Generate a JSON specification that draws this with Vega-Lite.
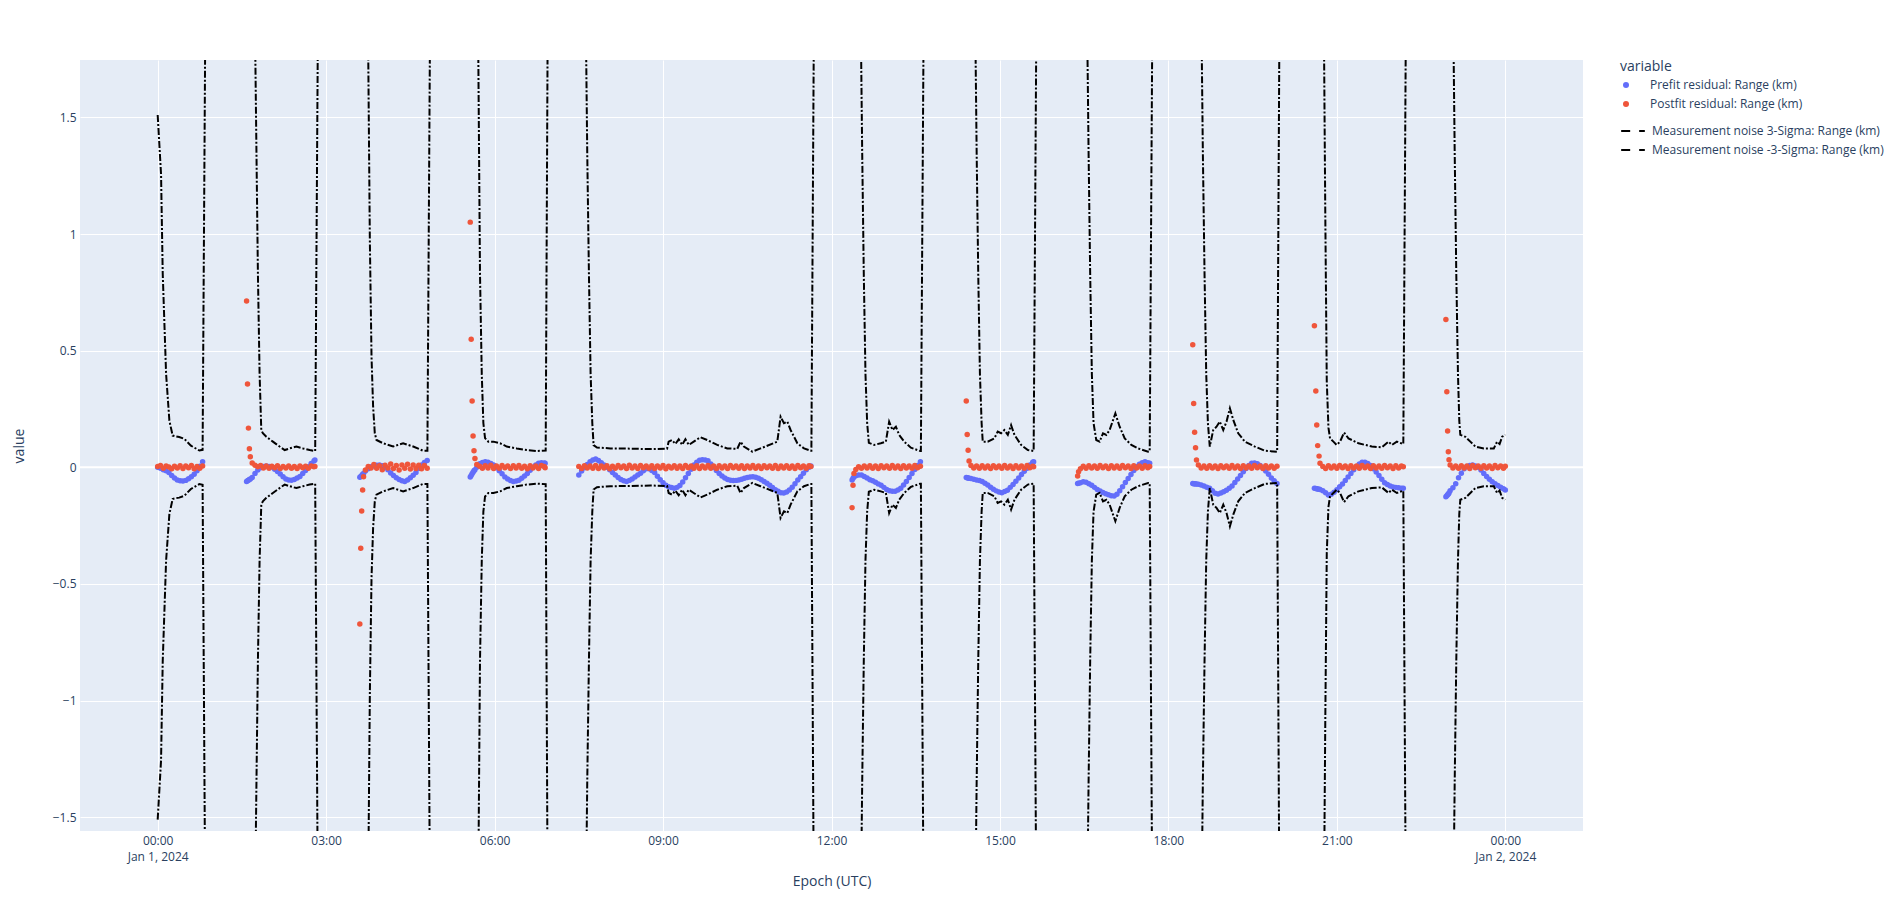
{
"$schema": "https://vega.github.io/schema/vega-lite/v6.json",
"width": 1503, "height": 771,
"autosize": {"type": "none"},
"padding": {"left": 80, "top": 60, "right": 321, "bottom": 80},
"background": "white",
"config": {
  "view": {"fill": "#E5ECF6", "stroke": null},
  "font": "Open Sans",
  "axis": {"domain": false, "ticks": false, "gridColor": "white", "gridWidth": 1, "labelColor": "#2a3f5f", "labelFontSize": 12, "titleColor": "#2a3f5f", "titleFontSize": 14, "titleFontWeight": "normal", "labelFont": "Open Sans", "titleFont": "Open Sans"},
  "legend": {"titleFont": "Open Sans", "labelFont": "Open Sans", "labelColor": "#2a3f5f", "titleColor": "#2a3f5f", "labelFontSize": 12, "labelLimit": 400}
},
"datasets": {
"res": [
{"t":"2024-01-01T00:00","pre":0,"post":0.003},{"t":"2024-01-01T00:03","pre":-0.004,"post":0.008},{"t":"2024-01-01T00:06","pre":-0.01,"post":-0.004},{"t":"2024-01-01T00:09","pre":-0.015,"post":0.006},{"t":"2024-01-01T00:12","pre":-0.022,"post":0.001},{"t":"2024-01-01T00:15","pre":-0.035,"post":-0.006},{"t":"2024-01-01T00:18","pre":-0.046,"post":0.005},{"t":"2024-01-01T00:21","pre":-0.054,"post":-0.003},{"t":"2024-01-01T00:24","pre":-0.058,"post":0.007},{"t":"2024-01-01T00:27","pre":-0.059,"post":-0.005},{"t":"2024-01-01T00:30","pre":-0.056,"post":0.006},{"t":"2024-01-01T00:33","pre":-0.049,"post":-0.002},{"t":"2024-01-01T00:36","pre":-0.04,"post":0.008},{"t":"2024-01-01T00:39","pre":-0.03,"post":-0.006},{"t":"2024-01-01T00:42","pre":-0.015,"post":0.004},{"t":"2024-01-01T00:45","pre":0.005,"post":-0.004},{"t":"2024-01-01T00:48","pre":0.024,"post":0.006},
{"t":"2024-01-01T01:35","pre":-0.061,"post":0.713},{"t":"2024-01-01T01:36","pre":-0.058,"post":0.357},{"t":"2024-01-01T01:37","pre":-0.055,"post":0.168},{"t":"2024-01-01T01:38","pre":-0.052,"post":0.08},{"t":"2024-01-01T01:39","pre":-0.05,"post":0.045},{"t":"2024-01-01T01:41","pre":-0.044,"post":0.018},{"t":"2024-01-01T01:44","pre":-0.026,"post":0.009},{"t":"2024-01-01T01:47","pre":-0.012,"post":0.002},{"t":"2024-01-01T01:50","pre":-0.002,"post":0.008},{"t":"2024-01-01T01:53","pre":0.003,"post":-0.003},{"t":"2024-01-01T01:56","pre":0.006,"post":0.006},{"t":"2024-01-01T01:59","pre":0.004,"post":-0.004},{"t":"2024-01-01T02:02","pre":0.001,"post":0.005},{"t":"2024-01-01T02:05","pre":-0.008,"post":-0.002},{"t":"2024-01-01T02:08","pre":-0.018,"post":0.007},{"t":"2024-01-01T02:11","pre":-0.029,"post":-0.005},{"t":"2024-01-01T02:14","pre":-0.04,"post":0.004},{"t":"2024-01-01T02:17","pre":-0.05,"post":-0.003},{"t":"2024-01-01T02:20","pre":-0.054,"post":0.006},{"t":"2024-01-01T02:23","pre":-0.055,"post":-0.004},{"t":"2024-01-01T02:26","pre":-0.052,"post":0.003},{"t":"2024-01-01T02:29","pre":-0.046,"post":-0.005},{"t":"2024-01-01T02:32","pre":-0.039,"post":0.006},{"t":"2024-01-01T02:35","pre":-0.027,"post":-0.002},{"t":"2024-01-01T02:38","pre":-0.014,"post":0.005},{"t":"2024-01-01T02:41","pre":0.002,"post":-0.004},{"t":"2024-01-01T02:44","pre":0.016,"post":0.006},{"t":"2024-01-01T02:47","pre":0.027,"post":0.002},{"t":"2024-01-01T02:48","pre":0.031,"post":0.004},
{"t":"2024-01-01T03:36","pre":-0.043,"post":-0.672},{"t":"2024-01-01T03:37","pre":-0.039,"post":-0.347},{"t":"2024-01-01T03:38","pre":-0.035,"post":-0.187},{"t":"2024-01-01T03:39","pre":-0.03,"post":-0.097},{"t":"2024-01-01T03:40","pre":-0.027,"post":-0.04},{"t":"2024-01-01T03:42","pre":-0.016,"post":-0.012},{"t":"2024-01-01T03:45","pre":-0.006,"post":0.004},{"t":"2024-01-01T03:48","pre":0.002,"post":-0.003},{"t":"2024-01-01T03:51","pre":0.007,"post":0.012},{"t":"2024-01-01T03:54","pre":0.009,"post":-0.004},{"t":"2024-01-01T03:57","pre":0.01,"post":0.007},{"t":"2024-01-01T04:00","pre":0.007,"post":-0.01},{"t":"2024-01-01T04:03","pre":0,"post":0.009},{"t":"2024-01-01T04:06","pre":-0.01,"post":-0.003},{"t":"2024-01-01T04:09","pre":-0.024,"post":0.014},{"t":"2024-01-01T04:12","pre":-0.035,"post":-0.005},{"t":"2024-01-01T04:15","pre":-0.045,"post":0.008},{"t":"2024-01-01T04:18","pre":-0.052,"post":-0.012},{"t":"2024-01-01T04:21","pre":-0.058,"post":0.01},{"t":"2024-01-01T04:24","pre":-0.061,"post":-0.004},{"t":"2024-01-01T04:27","pre":-0.054,"post":0.013},{"t":"2024-01-01T04:30","pre":-0.045,"post":-0.007},{"t":"2024-01-01T04:33","pre":-0.034,"post":0.01},{"t":"2024-01-01T04:36","pre":-0.022,"post":-0.005},{"t":"2024-01-01T04:39","pre":-0.005,"post":0.009},{"t":"2024-01-01T04:42","pre":0.01,"post":-0.006},{"t":"2024-01-01T04:45","pre":0.021,"post":0.008},{"t":"2024-01-01T04:48","pre":0.029,"post":-0.004},
{"t":"2024-01-01T05:34","pre":-0.042,"post":1.051},{"t":"2024-01-01T05:35","pre":-0.035,"post":0.549},{"t":"2024-01-01T05:36","pre":-0.028,"post":0.284},{"t":"2024-01-01T05:37","pre":-0.021,"post":0.134},{"t":"2024-01-01T05:38","pre":-0.015,"post":0.071},{"t":"2024-01-01T05:39","pre":-0.01,"post":0.038},{"t":"2024-01-01T05:41","pre":0,"post":0.012},{"t":"2024-01-01T05:44","pre":0.015,"post":0.005},{"t":"2024-01-01T05:47","pre":0.021,"post":-0.004},{"t":"2024-01-01T05:50","pre":0.024,"post":0.007},{"t":"2024-01-01T05:53","pre":0.022,"post":-0.003},{"t":"2024-01-01T05:56","pre":0.016,"post":0.009},{"t":"2024-01-01T05:59","pre":0.01,"post":-0.005},{"t":"2024-01-01T06:02","pre":-0.002,"post":0.006},{"t":"2024-01-01T06:05","pre":-0.015,"post":-0.004},{"t":"2024-01-01T06:08","pre":-0.028,"post":0.008},{"t":"2024-01-01T06:11","pre":-0.041,"post":-0.002},{"t":"2024-01-01T06:14","pre":-0.05,"post":0.006},{"t":"2024-01-01T06:17","pre":-0.057,"post":-0.005},{"t":"2024-01-01T06:20","pre":-0.061,"post":0.007},{"t":"2024-01-01T06:23","pre":-0.059,"post":-0.003},{"t":"2024-01-01T06:26","pre":-0.055,"post":0.008},{"t":"2024-01-01T06:29","pre":-0.047,"post":-0.004},{"t":"2024-01-01T06:32","pre":-0.037,"post":0.005},{"t":"2024-01-01T06:35","pre":-0.027,"post":-0.006},{"t":"2024-01-01T06:38","pre":-0.013,"post":0.007},{"t":"2024-01-01T06:41","pre":0,"post":-0.003},{"t":"2024-01-01T06:44","pre":0.01,"post":0.006},{"t":"2024-01-01T06:47","pre":0.017,"post":-0.005},{"t":"2024-01-01T06:50","pre":0.02,"post":0.008},{"t":"2024-01-01T06:53","pre":0.018,"post":0.003},{"t":"2024-01-01T06:54","pre":0.017,"post":-0.002},
{"t":"2024-01-01T07:30","pre":-0.033,"post":0.004},{"t":"2024-01-01T07:33","pre":-0.016,"post":-0.005},{"t":"2024-01-01T07:36","pre":-0.002,"post":0.007},{"t":"2024-01-01T07:39","pre":0.012,"post":-0.003},{"t":"2024-01-01T07:42","pre":0.024,"post":0.006},{"t":"2024-01-01T07:45","pre":0.031,"post":-0.004},{"t":"2024-01-01T07:48","pre":0.036,"post":0.008},{"t":"2024-01-01T07:51","pre":0.029,"post":-0.005},{"t":"2024-01-01T07:54","pre":0.02,"post":0.006},{"t":"2024-01-01T07:57","pre":0.01,"post":-0.003},{"t":"2024-01-01T08:00","pre":0,"post":0.007},{"t":"2024-01-01T08:03","pre":-0.01,"post":-0.006},{"t":"2024-01-01T08:06","pre":-0.022,"post":0.005},{"t":"2024-01-01T08:09","pre":-0.033,"post":-0.004},{"t":"2024-01-01T08:12","pre":-0.044,"post":0.008},{"t":"2024-01-01T08:15","pre":-0.052,"post":-0.002},{"t":"2024-01-01T08:18","pre":-0.058,"post":0.006},{"t":"2024-01-01T08:21","pre":-0.061,"post":-0.005},{"t":"2024-01-01T08:24","pre":-0.056,"post":0.009},{"t":"2024-01-01T08:27","pre":-0.05,"post":-0.003},{"t":"2024-01-01T08:30","pre":-0.042,"post":0.006},{"t":"2024-01-01T08:33","pre":-0.033,"post":-0.005},{"t":"2024-01-01T08:36","pre":-0.025,"post":0.008},{"t":"2024-01-01T08:39","pre":-0.015,"post":-0.002},{"t":"2024-01-01T08:42","pre":-0.006,"post":0.006},{"t":"2024-01-01T08:45","pre":-0.006,"post":-0.004},{"t":"2024-01-01T08:48","pre":-0.014,"post":0.007},{"t":"2024-01-01T08:51","pre":-0.022,"post":-0.005},{"t":"2024-01-01T08:54","pre":-0.038,"post":0.006},{"t":"2024-01-01T08:57","pre":-0.053,"post":-0.003},{"t":"2024-01-01T09:00","pre":-0.066,"post":0.008},{"t":"2024-01-01T09:03","pre":-0.077,"post":-0.006},{"t":"2024-01-01T09:06","pre":-0.083,"post":0.005},{"t":"2024-01-01T09:09","pre":-0.087,"post":-0.003},{"t":"2024-01-01T09:12","pre":-0.09,"post":0.007},{"t":"2024-01-01T09:15","pre":-0.086,"post":-0.004},{"t":"2024-01-01T09:18","pre":-0.078,"post":0.006},{"t":"2024-01-01T09:21","pre":-0.063,"post":-0.005},{"t":"2024-01-01T09:24","pre":-0.045,"post":0.008},{"t":"2024-01-01T09:27","pre":-0.027,"post":-0.002},{"t":"2024-01-01T09:30","pre":-0.008,"post":0.006},{"t":"2024-01-01T09:33","pre":0.01,"post":-0.004},{"t":"2024-01-01T09:36","pre":0.022,"post":0.007},{"t":"2024-01-01T09:39","pre":0.03,"post":-0.005},{"t":"2024-01-01T09:42","pre":0.032,"post":0.006},{"t":"2024-01-01T09:45","pre":0.031,"post":-0.003},{"t":"2024-01-01T09:48","pre":0.028,"post":0.008},{"t":"2024-01-01T09:51","pre":0.014,"post":-0.004},{"t":"2024-01-01T09:54","pre":0,"post":0.006},{"t":"2024-01-01T09:57","pre":-0.014,"post":-0.005},{"t":"2024-01-01T10:00","pre":-0.027,"post":0.007},{"t":"2024-01-01T10:03","pre":-0.037,"post":-0.003},{"t":"2024-01-01T10:06","pre":-0.046,"post":0.006},{"t":"2024-01-01T10:09","pre":-0.052,"post":-0.005},{"t":"2024-01-01T10:12","pre":-0.055,"post":0.008},{"t":"2024-01-01T10:15","pre":-0.057,"post":-0.002},{"t":"2024-01-01T10:18","pre":-0.056,"post":0.006},{"t":"2024-01-01T10:21","pre":-0.054,"post":-0.004},{"t":"2024-01-01T10:24","pre":-0.051,"post":0.007},{"t":"2024-01-01T10:27","pre":-0.047,"post":-0.005},{"t":"2024-01-01T10:30","pre":-0.044,"post":0.006},{"t":"2024-01-01T10:33","pre":-0.042,"post":-0.003},{"t":"2024-01-01T10:36","pre":-0.04,"post":0.008},{"t":"2024-01-01T10:39","pre":-0.043,"post":-0.004},{"t":"2024-01-01T10:42","pre":-0.047,"post":0.006},{"t":"2024-01-01T10:45","pre":-0.053,"post":-0.005},{"t":"2024-01-01T10:48","pre":-0.061,"post":0.007},{"t":"2024-01-01T10:51","pre":-0.068,"post":-0.002},{"t":"2024-01-01T10:54","pre":-0.077,"post":0.006},{"t":"2024-01-01T10:57","pre":-0.087,"post":-0.004},{"t":"2024-01-01T11:00","pre":-0.096,"post":0.008},{"t":"2024-01-01T11:03","pre":-0.103,"post":-0.005},{"t":"2024-01-01T11:06","pre":-0.109,"post":0.006},{"t":"2024-01-01T11:09","pre":-0.11,"post":-0.003},{"t":"2024-01-01T11:12","pre":-0.106,"post":0.007},{"t":"2024-01-01T11:15","pre":-0.097,"post":-0.004},{"t":"2024-01-01T11:18","pre":-0.085,"post":0.006},{"t":"2024-01-01T11:21","pre":-0.07,"post":-0.005},{"t":"2024-01-01T11:24","pre":-0.054,"post":0.008},{"t":"2024-01-01T11:27","pre":-0.04,"post":-0.002},{"t":"2024-01-01T11:30","pre":-0.025,"post":0.006},{"t":"2024-01-01T11:33","pre":-0.01,"post":-0.004},{"t":"2024-01-01T11:36","pre":0,"post":0.007},{"t":"2024-01-01T11:38","pre":0.006,"post":0.003},
{"t":"2024-01-01T12:22","pre":-0.054,"post":-0.173},{"t":"2024-01-01T12:23","pre":-0.047,"post":-0.077},{"t":"2024-01-01T12:24","pre":-0.041,"post":-0.026},{"t":"2024-01-01T12:26","pre":-0.036,"post":-0.009},{"t":"2024-01-01T12:29","pre":-0.033,"post":0.002},{"t":"2024-01-01T12:32","pre":-0.033,"post":-0.004},{"t":"2024-01-01T12:35","pre":-0.039,"post":0.006},{"t":"2024-01-01T12:38","pre":-0.046,"post":-0.003},{"t":"2024-01-01T12:41","pre":-0.053,"post":0.007},{"t":"2024-01-01T12:44","pre":-0.058,"post":-0.004},{"t":"2024-01-01T12:47","pre":-0.064,"post":0.006},{"t":"2024-01-01T12:50","pre":-0.071,"post":-0.005},{"t":"2024-01-01T12:53","pre":-0.077,"post":0.007},{"t":"2024-01-01T12:56","pre":-0.086,"post":-0.002},{"t":"2024-01-01T12:59","pre":-0.095,"post":0.006},{"t":"2024-01-01T13:02","pre":-0.1,"post":-0.004},{"t":"2024-01-01T13:05","pre":-0.103,"post":0.008},{"t":"2024-01-01T13:08","pre":-0.103,"post":-0.003},{"t":"2024-01-01T13:11","pre":-0.097,"post":0.006},{"t":"2024-01-01T13:14","pre":-0.09,"post":-0.005},{"t":"2024-01-01T13:17","pre":-0.076,"post":0.007},{"t":"2024-01-01T13:20","pre":-0.061,"post":-0.003},{"t":"2024-01-01T13:23","pre":-0.044,"post":0.006},{"t":"2024-01-01T13:26","pre":-0.027,"post":-0.004},{"t":"2024-01-01T13:29","pre":-0.009,"post":0.008},{"t":"2024-01-01T13:32","pre":0.008,"post":-0.002},{"t":"2024-01-01T13:35","pre":0.024,"post":0.005},
{"t":"2024-01-01T14:24","pre":-0.044,"post":0.284},{"t":"2024-01-01T14:25","pre":-0.045,"post":0.141},{"t":"2024-01-01T14:26","pre":-0.046,"post":0.073},{"t":"2024-01-01T14:27","pre":-0.047,"post":0.027},{"t":"2024-01-01T14:29","pre":-0.048,"post":0.008},{"t":"2024-01-01T14:32","pre":-0.051,"post":-0.003},{"t":"2024-01-01T14:35","pre":-0.054,"post":0.006},{"t":"2024-01-01T14:38","pre":-0.057,"post":-0.004},{"t":"2024-01-01T14:41","pre":-0.061,"post":0.007},{"t":"2024-01-01T14:44","pre":-0.068,"post":-0.003},{"t":"2024-01-01T14:47","pre":-0.076,"post":0.006},{"t":"2024-01-01T14:50","pre":-0.085,"post":-0.005},{"t":"2024-01-01T14:53","pre":-0.094,"post":0.007},{"t":"2024-01-01T14:56","pre":-0.101,"post":-0.002},{"t":"2024-01-01T14:59","pre":-0.106,"post":0.006},{"t":"2024-01-01T15:02","pre":-0.109,"post":-0.004},{"t":"2024-01-01T15:05","pre":-0.104,"post":0.008},{"t":"2024-01-01T15:08","pre":-0.098,"post":-0.003},{"t":"2024-01-01T15:11","pre":-0.086,"post":0.006},{"t":"2024-01-01T15:14","pre":-0.074,"post":-0.005},{"t":"2024-01-01T15:17","pre":-0.06,"post":0.007},{"t":"2024-01-01T15:20","pre":-0.046,"post":-0.003},{"t":"2024-01-01T15:23","pre":-0.031,"post":0.006},{"t":"2024-01-01T15:26","pre":-0.017,"post":-0.004},{"t":"2024-01-01T15:29","pre":-0.004,"post":0.008},{"t":"2024-01-01T15:32","pre":0.01,"post":-0.002},{"t":"2024-01-01T15:35","pre":0.022,"post":0.005},{"t":"2024-01-01T15:36","pre":0.024,"post":0.002},
{"t":"2024-01-01T16:23","pre":-0.069,"post":-0.037},{"t":"2024-01-01T16:24","pre":-0.068,"post":-0.019},{"t":"2024-01-01T16:26","pre":-0.066,"post":-0.006},{"t":"2024-01-01T16:29","pre":-0.062,"post":0.005},{"t":"2024-01-01T16:32","pre":-0.064,"post":-0.004},{"t":"2024-01-01T16:35","pre":-0.07,"post":0.007},{"t":"2024-01-01T16:38","pre":-0.077,"post":-0.003},{"t":"2024-01-01T16:41","pre":-0.086,"post":0.006},{"t":"2024-01-01T16:44","pre":-0.095,"post":-0.004},{"t":"2024-01-01T16:47","pre":-0.102,"post":0.008},{"t":"2024-01-01T16:50","pre":-0.108,"post":-0.002},{"t":"2024-01-01T16:53","pre":-0.113,"post":0.006},{"t":"2024-01-01T16:56","pre":-0.118,"post":-0.005},{"t":"2024-01-01T16:59","pre":-0.122,"post":0.007},{"t":"2024-01-01T17:02","pre":-0.123,"post":-0.003},{"t":"2024-01-01T17:05","pre":-0.115,"post":0.006},{"t":"2024-01-01T17:08","pre":-0.1,"post":-0.004},{"t":"2024-01-01T17:11","pre":-0.083,"post":0.008},{"t":"2024-01-01T17:14","pre":-0.065,"post":-0.002},{"t":"2024-01-01T17:17","pre":-0.048,"post":0.006},{"t":"2024-01-01T17:20","pre":-0.031,"post":-0.005},{"t":"2024-01-01T17:23","pre":-0.014,"post":0.007},{"t":"2024-01-01T17:26","pre":0.002,"post":-0.003},{"t":"2024-01-01T17:29","pre":0.013,"post":0.006},{"t":"2024-01-01T17:32","pre":0.02,"post":-0.004},{"t":"2024-01-01T17:35","pre":0.024,"post":0.007},{"t":"2024-01-01T17:38","pre":0.02,"post":-0.002},{"t":"2024-01-01T17:40","pre":0.017,"post":0.004},
{"t":"2024-01-01T18:26","pre":-0.069,"post":0.525},{"t":"2024-01-01T18:27","pre":-0.07,"post":0.274},{"t":"2024-01-01T18:28","pre":-0.07,"post":0.15},{"t":"2024-01-01T18:29","pre":-0.071,"post":0.084},{"t":"2024-01-01T18:30","pre":-0.072,"post":0.031},{"t":"2024-01-01T18:32","pre":-0.073,"post":0.01},{"t":"2024-01-01T18:35","pre":-0.076,"post":-0.003},{"t":"2024-01-01T18:38","pre":-0.08,"post":0.006},{"t":"2024-01-01T18:41","pre":-0.085,"post":-0.004},{"t":"2024-01-01T18:44","pre":-0.09,"post":0.007},{"t":"2024-01-01T18:47","pre":-0.1,"post":-0.003},{"t":"2024-01-01T18:50","pre":-0.111,"post":0.006},{"t":"2024-01-01T18:53","pre":-0.114,"post":-0.005},{"t":"2024-01-01T18:56","pre":-0.11,"post":0.007},{"t":"2024-01-01T18:59","pre":-0.105,"post":-0.002},{"t":"2024-01-01T19:02","pre":-0.098,"post":0.006},{"t":"2024-01-01T19:05","pre":-0.09,"post":-0.004},{"t":"2024-01-01T19:08","pre":-0.08,"post":0.008},{"t":"2024-01-01T19:11","pre":-0.065,"post":-0.003},{"t":"2024-01-01T19:14","pre":-0.05,"post":0.006},{"t":"2024-01-01T19:17","pre":-0.035,"post":-0.005},{"t":"2024-01-01T19:20","pre":-0.019,"post":0.007},{"t":"2024-01-01T19:23","pre":-0.005,"post":-0.003},{"t":"2024-01-01T19:26","pre":0.008,"post":0.006},{"t":"2024-01-01T19:29","pre":0.017,"post":-0.004},{"t":"2024-01-01T19:32","pre":0.018,"post":0.008},{"t":"2024-01-01T19:35","pre":0.015,"post":-0.002},{"t":"2024-01-01T19:38","pre":0.008,"post":0.006},{"t":"2024-01-01T19:41","pre":-0.003,"post":-0.005},{"t":"2024-01-01T19:44","pre":-0.016,"post":0.007},{"t":"2024-01-01T19:47","pre":-0.03,"post":-0.003},{"t":"2024-01-01T19:50","pre":-0.046,"post":0.006},{"t":"2024-01-01T19:53","pre":-0.058,"post":-0.004},{"t":"2024-01-01T19:56","pre":-0.069,"post":0.005},
{"t":"2024-01-01T20:36:00","pre":-0.09,"post":0.607},{"t":"2024-01-01T20:37:30","pre":-0.091,"post":0.327},{"t":"2024-01-01T20:38:30","pre":-0.092,"post":0.181},{"t":"2024-01-01T20:39:30","pre":-0.093,"post":0.093},{"t":"2024-01-01T20:41:00","pre":-0.094,"post":0.048},{"t":"2024-01-01T20:42:00","pre":-0.095,"post":0.017},{"t":"2024-01-01T20:45","pre":-0.1,"post":0.004},{"t":"2024-01-01T20:48","pre":-0.109,"post":-0.005},{"t":"2024-01-01T20:51","pre":-0.119,"post":0.007},{"t":"2024-01-01T20:54","pre":-0.115,"post":-0.003},{"t":"2024-01-01T20:57","pre":-0.107,"post":0.006},{"t":"2024-01-01T21:00","pre":-0.096,"post":-0.004},{"t":"2024-01-01T21:03","pre":-0.083,"post":0.008},{"t":"2024-01-01T21:06","pre":-0.072,"post":-0.002},{"t":"2024-01-01T21:09","pre":-0.056,"post":0.006},{"t":"2024-01-01T21:12","pre":-0.041,"post":-0.005},{"t":"2024-01-01T21:15","pre":-0.026,"post":0.007},{"t":"2024-01-01T21:18","pre":-0.01,"post":-0.003},{"t":"2024-01-01T21:21","pre":0.004,"post":0.006},{"t":"2024-01-01T21:24","pre":0.014,"post":-0.004},{"t":"2024-01-01T21:27","pre":0.022,"post":0.008},{"t":"2024-01-01T21:30","pre":0.022,"post":-0.002},{"t":"2024-01-01T21:33","pre":0.016,"post":0.006},{"t":"2024-01-01T21:36","pre":0.008,"post":-0.005},{"t":"2024-01-01T21:39","pre":-0.006,"post":0.007},{"t":"2024-01-01T21:42","pre":-0.02,"post":-0.003},{"t":"2024-01-01T21:45","pre":-0.035,"post":0.006},{"t":"2024-01-01T21:48","pre":-0.051,"post":-0.004},{"t":"2024-01-01T21:51","pre":-0.066,"post":0.008},{"t":"2024-01-01T21:54","pre":-0.074,"post":-0.002},{"t":"2024-01-01T21:57","pre":-0.08,"post":0.006},{"t":"2024-01-01T22:00","pre":-0.084,"post":-0.005},{"t":"2024-01-01T22:03","pre":-0.086,"post":0.007},{"t":"2024-01-01T22:06","pre":-0.088,"post":-0.003},{"t":"2024-01-01T22:09","pre":-0.09,"post":0.006},{"t":"2024-01-01T22:11","pre":-0.09,"post":0.002},
{"t":"2024-01-01T22:56:30","pre":-0.126,"post":0.634},{"t":"2024-01-01T22:57:30","pre":-0.122,"post":0.324},{"t":"2024-01-01T22:58:20","pre":-0.118,"post":0.156},{"t":"2024-01-01T22:59:05","pre":-0.114,"post":0.067},{"t":"2024-01-01T22:59:50","pre":-0.11,"post":0.032},{"t":"2024-01-01T23:01","pre":-0.1,"post":0.01},{"t":"2024-01-01T23:04","pre":-0.088,"post":-0.003},{"t":"2024-01-01T23:07","pre":-0.07,"post":0.006},{"t":"2024-01-01T23:10","pre":-0.045,"post":-0.004},{"t":"2024-01-01T23:13","pre":-0.025,"post":0.007},{"t":"2024-01-01T23:16","pre":-0.006,"post":-0.003},{"t":"2024-01-01T23:19","pre":0.004,"post":0.006},{"t":"2024-01-01T23:22","pre":0.008,"post":-0.005},{"t":"2024-01-01T23:25","pre":0.01,"post":0.008},{"t":"2024-01-01T23:28","pre":0.006,"post":-0.002},{"t":"2024-01-01T23:31","pre":0,"post":0.006},{"t":"2024-01-01T23:34","pre":-0.012,"post":-0.004},{"t":"2024-01-01T23:37","pre":-0.026,"post":0.007},{"t":"2024-01-01T23:40","pre":-0.039,"post":-0.003},{"t":"2024-01-01T23:43","pre":-0.051,"post":0.006},{"t":"2024-01-01T23:46","pre":-0.062,"post":-0.005},{"t":"2024-01-01T23:49","pre":-0.07,"post":0.008},{"t":"2024-01-01T23:52","pre":-0.078,"post":-0.002},{"t":"2024-01-01T23:55","pre":-0.085,"post":0.006},{"t":"2024-01-01T23:58","pre":-0.092,"post":-0.004},{"t":"2024-01-02T00:00","pre":-0.097,"post":0.005}
],
"sig": [
{"t":"2024-01-01T00:00:00","p":1.51,"m":-1.51},{"t":"2024-01-01T00:03:36","p":1.257,"m":-1.257},{"t":"2024-01-01T00:05:24","p":0.83,"m":-0.83},{"t":"2024-01-01T00:09:00","p":0.4,"m":-0.4},{"t":"2024-01-01T00:12:30","p":0.2,"m":-0.2},{"t":"2024-01-01T00:16:00","p":0.136,"m":-0.136},{"t":"2024-01-01T00:20:00","p":0.132,"m":-0.132},{"t":"2024-01-01T00:23:00","p":0.13,"m":-0.13},{"t":"2024-01-01T00:28:30","p":0.122,"m":-0.122},{"t":"2024-01-01T00:35:30","p":0.093,"m":-0.093},{"t":"2024-01-01T00:44:30","p":0.072,"m":-0.072},{"t":"2024-01-01T00:48:00","p":0.075,"m":-0.075},
{"t":"2024-01-01T01:35:18","p":30,"m":-30},{"t":"2024-01-01T01:41:54","p":2.6,"m":-2.6},{"t":"2024-01-01T01:45:24","p":1.4,"m":-1.4},{"t":"2024-01-01T01:47:06","p":0.83,"m":-0.83},{"t":"2024-01-01T01:48:54","p":0.4,"m":-0.4},{"t":"2024-01-01T01:50:42","p":0.16,"m":-0.16},{"t":"2024-01-01T01:52:24","p":0.146,"m":-0.146},{"t":"2024-01-01T01:56:06","p":0.131,"m":-0.131},{"t":"2024-01-01T02:03:06","p":0.11,"m":-0.11},{"t":"2024-01-01T02:10:18","p":0.089,"m":-0.089},{"t":"2024-01-01T02:15:42","p":0.074,"m":-0.074},{"t":"2024-01-01T02:21:00","p":0.081,"m":-0.081},{"t":"2024-01-01T02:28:12","p":0.089,"m":-0.089},{"t":"2024-01-01T02:35:18","p":0.081,"m":-0.081},{"t":"2024-01-01T02:42:24","p":0.074,"m":-0.074},{"t":"2024-01-01T02:48:18","p":0.07,"m":-0.07},
{"t":"2024-01-01T03:36:18","p":30,"m":-30},{"t":"2024-01-01T03:43:12","p":2.6,"m":-2.6},{"t":"2024-01-01T03:46:42","p":0.974,"m":-0.974},{"t":"2024-01-01T03:48:30","p":0.474,"m":-0.474},{"t":"2024-01-01T03:50:12","p":0.26,"m":-0.26},{"t":"2024-01-01T03:52:00","p":0.146,"m":-0.146},{"t":"2024-01-01T03:53:48","p":0.117,"m":-0.117},{"t":"2024-01-01T04:00:54","p":0.103,"m":-0.103},{"t":"2024-01-01T04:11:36","p":0.089,"m":-0.089},{"t":"2024-01-01T04:22:18","p":0.103,"m":-0.103},{"t":"2024-01-01T04:33:00","p":0.089,"m":-0.089},{"t":"2024-01-01T04:43:42","p":0.071,"m":-0.071},{"t":"2024-01-01T04:48:12","p":0.071,"m":-0.071},
{"t":"2024-01-01T05:34:30","p":30,"m":-30},{"t":"2024-01-01T05:41:00","p":2.6,"m":-2.6},{"t":"2024-01-01T05:44:24","p":0.83,"m":-0.83},{"t":"2024-01-01T05:46:18","p":0.4,"m":-0.4},{"t":"2024-01-01T05:48:00","p":0.19,"m":-0.19},{"t":"2024-01-01T05:49:48","p":0.125,"m":-0.125},{"t":"2024-01-01T05:53:18","p":0.11,"m":-0.11},{"t":"2024-01-01T05:58:42","p":0.11,"m":-0.11},{"t":"2024-01-01T06:05:54","p":0.103,"m":-0.103},{"t":"2024-01-01T06:13:00","p":0.089,"m":-0.089},{"t":"2024-01-01T06:23:42","p":0.081,"m":-0.081},{"t":"2024-01-01T06:34:24","p":0.074,"m":-0.074},{"t":"2024-01-01T06:45:06","p":0.07,"m":-0.07},{"t":"2024-01-01T06:54:36","p":0.072,"m":-0.072},
{"t":"2024-01-01T07:29:42","p":30,"m":-30},{"t":"2024-01-01T07:35:36","p":2.6,"m":-2.6},{"t":"2024-01-01T07:39:00","p":1.35,"m":-1.35},{"t":"2024-01-01T07:40:48","p":0.83,"m":-0.83},{"t":"2024-01-01T07:42:36","p":0.4,"m":-0.4},{"t":"2024-01-01T07:44:24","p":0.19,"m":-0.19},{"t":"2024-01-01T07:45:48","p":0.095,"m":-0.095},{"t":"2024-01-01T07:49:24","p":0.085,"m":-0.085},{"t":"2024-01-01T08:03:36","p":0.081,"m":-0.081},{"t":"2024-01-01T08:25:00","p":0.08,"m":-0.08},{"t":"2024-01-01T08:46:30","p":0.078,"m":-0.078},{"t":"2024-01-01T09:04:18","p":0.08,"m":-0.08},{"t":"2024-01-01T09:06:00","p":0.11,"m":-0.11},{"t":"2024-01-01T09:09:36","p":0.117,"m":-0.117},{"t":"2024-01-01T09:13:12","p":0.1,"m":-0.1},{"t":"2024-01-01T09:16:42","p":0.12,"m":-0.12},{"t":"2024-01-01T09:20:24","p":0.096,"m":-0.096},{"t":"2024-01-01T09:23:54","p":0.12,"m":-0.12},{"t":"2024-01-01T09:27:30","p":0.096,"m":-0.096},{"t":"2024-01-01T09:32:48","p":0.11,"m":-0.11},{"t":"2024-01-01T09:40:00","p":0.129,"m":-0.129},{"t":"2024-01-01T09:47:12","p":0.117,"m":-0.117},{"t":"2024-01-01T09:57:54","p":0.096,"m":-0.096},{"t":"2024-01-01T10:08:36","p":0.081,"m":-0.081},{"t":"2024-01-01T10:19:18","p":0.079,"m":-0.079},{"t":"2024-01-01T10:22:48","p":0.11,"m":-0.11},{"t":"2024-01-01T10:26:24","p":0.089,"m":-0.089},{"t":"2024-01-01T10:35:24","p":0.067,"m":-0.067},{"t":"2024-01-01T10:44:12","p":0.081,"m":-0.081},{"t":"2024-01-01T11:02:06","p":0.11,"m":-0.11},{"t":"2024-01-01T11:05:36","p":0.217,"m":-0.217},{"t":"2024-01-01T11:09:12","p":0.189,"m":-0.189},{"t":"2024-01-01T11:12:48","p":0.196,"m":-0.196},{"t":"2024-01-01T11:16:18","p":0.16,"m":-0.16},{"t":"2024-01-01T11:23:30","p":0.103,"m":-0.103},{"t":"2024-01-01T11:30:36","p":0.081,"m":-0.081},{"t":"2024-01-01T11:37:48","p":0.071,"m":-0.071},{"t":"2024-01-01T11:38:30","p":0.071,"m":-0.071},
{"t":"2024-01-01T12:22:24","p":30,"m":-30},{"t":"2024-01-01T12:29:24","p":2.6,"m":-2.6},{"t":"2024-01-01T12:32:48","p":1.35,"m":-1.35},{"t":"2024-01-01T12:34:30","p":0.83,"m":-0.83},{"t":"2024-01-01T12:36:18","p":0.4,"m":-0.4},{"t":"2024-01-01T12:38:06","p":0.19,"m":-0.19},{"t":"2024-01-01T12:39:54","p":0.105,"m":-0.105},{"t":"2024-01-01T12:45:36","p":0.096,"m":-0.096},{"t":"2024-01-01T12:52:42","p":0.103,"m":-0.103},{"t":"2024-01-01T12:58:06","p":0.11,"m":-0.11},{"t":"2024-01-01T13:01:36","p":0.196,"m":-0.196},{"t":"2024-01-01T13:05:12","p":0.16,"m":-0.16},{"t":"2024-01-01T13:08:48","p":0.174,"m":-0.174},{"t":"2024-01-01T13:12:18","p":0.139,"m":-0.139},{"t":"2024-01-01T13:17:42","p":0.11,"m":-0.11},{"t":"2024-01-01T13:24:48","p":0.084,"m":-0.084},{"t":"2024-01-01T13:34:48","p":0.07,"m":-0.07},{"t":"2024-01-01T13:35:30","p":0.07,"m":-0.07},
{"t":"2024-01-01T14:23:42","p":30,"m":-30},{"t":"2024-01-01T14:31:42","p":2.6,"m":-2.6},{"t":"2024-01-01T14:35:06","p":1.35,"m":-1.35},{"t":"2024-01-01T14:36:48","p":0.83,"m":-0.83},{"t":"2024-01-01T14:38:36","p":0.4,"m":-0.4},{"t":"2024-01-01T14:40:24","p":0.19,"m":-0.19},{"t":"2024-01-01T14:41:36","p":0.11,"m":-0.11},{"t":"2024-01-01T14:46:54","p":0.11,"m":-0.11},{"t":"2024-01-01T14:54:00","p":0.124,"m":-0.124},{"t":"2024-01-01T14:57:36","p":0.153,"m":-0.153},{"t":"2024-01-01T15:01:12","p":0.146,"m":-0.146},{"t":"2024-01-01T15:04:42","p":0.16,"m":-0.16},{"t":"2024-01-01T15:08:24","p":0.139,"m":-0.139},{"t":"2024-01-01T15:11:54","p":0.181,"m":-0.181},{"t":"2024-01-01T15:15:30","p":0.139,"m":-0.139},{"t":"2024-01-01T15:22:36","p":0.096,"m":-0.096},{"t":"2024-01-01T15:29:48","p":0.074,"m":-0.074},{"t":"2024-01-01T15:36:00","p":0.07,"m":-0.07},
{"t":"2024-01-01T16:23:18","p":30,"m":-30},{"t":"2024-01-01T16:31:12","p":2.6,"m":-2.6},{"t":"2024-01-01T16:34:42","p":1.35,"m":-1.35},{"t":"2024-01-01T16:36:24","p":0.83,"m":-0.83},{"t":"2024-01-01T16:38:12","p":0.4,"m":-0.4},{"t":"2024-01-01T16:40:00","p":0.19,"m":-0.19},{"t":"2024-01-01T16:42:54","p":0.117,"m":-0.117},{"t":"2024-01-01T16:46:30","p":0.11,"m":-0.11},{"t":"2024-01-01T16:50:06","p":0.146,"m":-0.146},{"t":"2024-01-01T16:53:42","p":0.139,"m":-0.139},{"t":"2024-01-01T16:57:12","p":0.16,"m":-0.16},{"t":"2024-01-01T17:03:18","p":0.231,"m":-0.231},{"t":"2024-01-01T17:07:54","p":0.174,"m":-0.174},{"t":"2024-01-01T17:13:18","p":0.124,"m":-0.124},{"t":"2024-01-01T17:20:24","p":0.096,"m":-0.096},{"t":"2024-01-01T17:27:36","p":0.081,"m":-0.081},{"t":"2024-01-01T17:38:18","p":0.067,"m":-0.067},{"t":"2024-01-01T17:40:00","p":0.068,"m":-0.068},
{"t":"2024-01-01T18:26:00","p":30,"m":-30},{"t":"2024-01-01T18:33:24","p":2.6,"m":-2.6},{"t":"2024-01-01T18:36:48","p":1.35,"m":-1.35},{"t":"2024-01-01T18:38:36","p":0.83,"m":-0.83},{"t":"2024-01-01T18:40:24","p":0.4,"m":-0.4},{"t":"2024-01-01T18:42:12","p":0.19,"m":-0.19},{"t":"2024-01-01T18:44:12","p":0.089,"m":-0.089},{"t":"2024-01-01T18:47:54","p":0.16,"m":-0.16},{"t":"2024-01-01T18:51:24","p":0.174,"m":-0.174},{"t":"2024-01-01T18:54:54","p":0.196,"m":-0.196},{"t":"2024-01-01T18:58:36","p":0.16,"m":-0.16},{"t":"2024-01-01T19:02:06","p":0.196,"m":-0.196},{"t":"2024-01-01T19:05:42","p":0.253,"m":-0.253},{"t":"2024-01-01T19:09:18","p":0.203,"m":-0.203},{"t":"2024-01-01T19:14:36","p":0.146,"m":-0.146},{"t":"2024-01-01T19:21:42","p":0.11,"m":-0.11},{"t":"2024-01-01T19:32:24","p":0.089,"m":-0.089},{"t":"2024-01-01T19:43:06","p":0.071,"m":-0.071},{"t":"2024-01-01T19:56:12","p":0.067,"m":-0.067},
{"t":"2024-01-01T20:36:00","p":30,"m":-30},{"t":"2024-01-01T20:44:48","p":2.6,"m":-2.6},{"t":"2024-01-01T20:47:36","p":1.1,"m":-1.1},{"t":"2024-01-01T20:49:12","p":0.37,"m":-0.37},{"t":"2024-01-01T20:51:00","p":0.17,"m":-0.17},{"t":"2024-01-01T20:52:42","p":0.124,"m":-0.124},{"t":"2024-01-01T20:56:18","p":0.11,"m":-0.11},{"t":"2024-01-01T20:59:48","p":0.096,"m":-0.096},{"t":"2024-01-01T21:03:24","p":0.11,"m":-0.11},{"t":"2024-01-01T21:07:42","p":0.149,"m":-0.149},{"t":"2024-01-01T21:12:24","p":0.124,"m":-0.124},{"t":"2024-01-01T21:23:06","p":0.103,"m":-0.103},{"t":"2024-01-01T21:37:18","p":0.089,"m":-0.089},{"t":"2024-01-01T21:48:06","p":0.086,"m":-0.086},{"t":"2024-01-01T21:55:12","p":0.11,"m":-0.11},{"t":"2024-01-01T21:58:48","p":0.096,"m":-0.096},{"t":"2024-01-01T22:04:06","p":0.11,"m":-0.11},{"t":"2024-01-01T22:11:00","p":0.1,"m":-0.1},
{"t":"2024-01-01T22:56:36","p":30,"m":-30},{"t":"2024-01-01T23:02:30","p":2.6,"m":-2.6},{"t":"2024-01-01T23:05:54","p":1.35,"m":-1.35},{"t":"2024-01-01T23:07:36","p":0.83,"m":-0.83},{"t":"2024-01-01T23:09:24","p":0.4,"m":-0.4},{"t":"2024-01-01T23:10:48","p":0.2,"m":-0.2},{"t":"2024-01-01T23:11:54","p":0.139,"m":-0.139},{"t":"2024-01-01T23:17:18","p":0.131,"m":-0.131},{"t":"2024-01-01T23:22:36","p":0.11,"m":-0.11},{"t":"2024-01-01T23:28:00","p":0.089,"m":-0.089},{"t":"2024-01-01T23:37:00","p":0.081,"m":-0.081},{"t":"2024-01-01T23:47:42","p":0.081,"m":-0.081},{"t":"2024-01-01T23:51:12","p":0.11,"m":-0.11},{"t":"2024-01-01T23:53:54","p":0.1,"m":-0.1},{"t":"2024-01-01T23:56:36","p":0.131,"m":-0.131},{"t":"2024-01-02T00:00:00","p":0.139,"m":-0.139}
]
},
"resolve": {"scale": {"color": "independent"}},
"layer": [
  {"data": {"values": [{"z": 0}]},
   "mark": {"type": "rule", "color": "white", "strokeWidth": 2},
   "encoding": {"y": {"field": "z", "type": "quantitative"}}},
  {"data": {"name": "res"},
   "transform": [{"fold": ["pre"], "as": ["variable", "value"]}],
   "mark": {"type": "point", "filled": true, "size": 30, "opacity": 1, "clip": true},
   "encoding": {
     "x": {"field": "t", "type": "temporal", "title": "Epoch (UTC)",
       "scale": {"domain": [{"year": 2023, "month": 12, "date": 31, "hours": 22, "minutes": 37}, {"year": 2024, "month": 1, "date": 2, "hours": 1, "minutes": 23}]},
       "axis": {"values": [{"year": 2024, "month": 1, "date": 1, "hours": 0}, {"year": 2024, "month": 1, "date": 1, "hours": 3}, {"year": 2024, "month": 1, "date": 1, "hours": 6}, {"year": 2024, "month": 1, "date": 1, "hours": 9}, {"year": 2024, "month": 1, "date": 1, "hours": 12}, {"year": 2024, "month": 1, "date": 1, "hours": 15}, {"year": 2024, "month": 1, "date": 1, "hours": 18}, {"year": 2024, "month": 1, "date": 1, "hours": 21}, {"year": 2024, "month": 1, "date": 2, "hours": 0}],
         "labelExpr": "hours(datum.value) == 0 ? [timeFormat(datum.value, '%H:%M'), timeFormat(datum.value, '%b %-d, %Y')] : timeFormat(datum.value, '%H:%M')",
         "labelLineHeight": 16, "labelPadding": 4, "labelFlush": false, "labelOverlap": false, "titlePadding": 12}},
     "y": {"field": "value", "type": "quantitative", "title": "value",
       "scale": {"domain": [-1.559, 1.746], "nice": false, "zero": false},
       "axis": {"values": [-1.5, -1, -0.5, 0, 0.5, 1, 1.5], "format": "~g", "labelPadding": 4, "titlePadding": 26}},
     "color": {"field": "variable", "type": "nominal",
       "scale": {"domain": ["pre", "post"], "range": ["#636efa", "#EF553B"]},
       "legend": {"title": "variable", "orient": "right", "offset": 37,
         "titleFontSize": 14, "titleFontWeight": "normal", "titlePadding": 5,
         "symbolType": "circle", "symbolSize": 36, "symbolStrokeWidth": 0, "symbolOpacity": 1,
         "labelOffset": 18, "rowPadding": 7, "labelLimit": 400,
         "labelExpr": "datum.value == 'pre' ? 'Prefit residual: Range (km)' : 'Postfit residual: Range (km)'"}
       }
   }},
  {"data": {"name": "res"},
   "transform": [{"fold": ["post"], "as": ["variable", "value"]}],
   "mark": {"type": "point", "filled": true, "size": 30, "opacity": 1, "clip": true},
   "encoding": {
     "x": {"field": "t", "type": "temporal"},
     "y": {"field": "value", "type": "quantitative"},
     "color": {"field": "variable", "type": "nominal",
       "scale": {"domain": ["pre", "post"], "range": ["#636efa", "#EF553B"]}, "legend": null}
   }},
  {"data": {"name": "sig"},
   "transform": [{"fold": ["p", "m"], "as": ["variable", "value"]}],
   "mark": {"type": "line", "clip": true, "strokeWidth": 2, "strokeDash": [7, 2, 2, 2]},
   "encoding": {
     "x": {"field": "t", "type": "temporal"},
     "y": {"field": "value", "type": "quantitative"},
     "color": {"field": "variable", "type": "nominal",
       "scale": {"domain": ["p", "m"], "range": ["#000000", "#000000"]},
       "legend": {"title": null, "orient": "right", "offset": 32,
         "symbolType": "stroke", "symbolSize": 560, "symbolStrokeWidth": 2, "symbolDash": [9, 9],
         "labelOffset": 6, "rowPadding": 0, "labelLimit": 400,
         "labelExpr": "datum.value == 'p' ? 'Measurement noise 3-Sigma: Range (km)' : 'Measurement noise -3-Sigma: Range (km)'"}}
   }}
]
}
